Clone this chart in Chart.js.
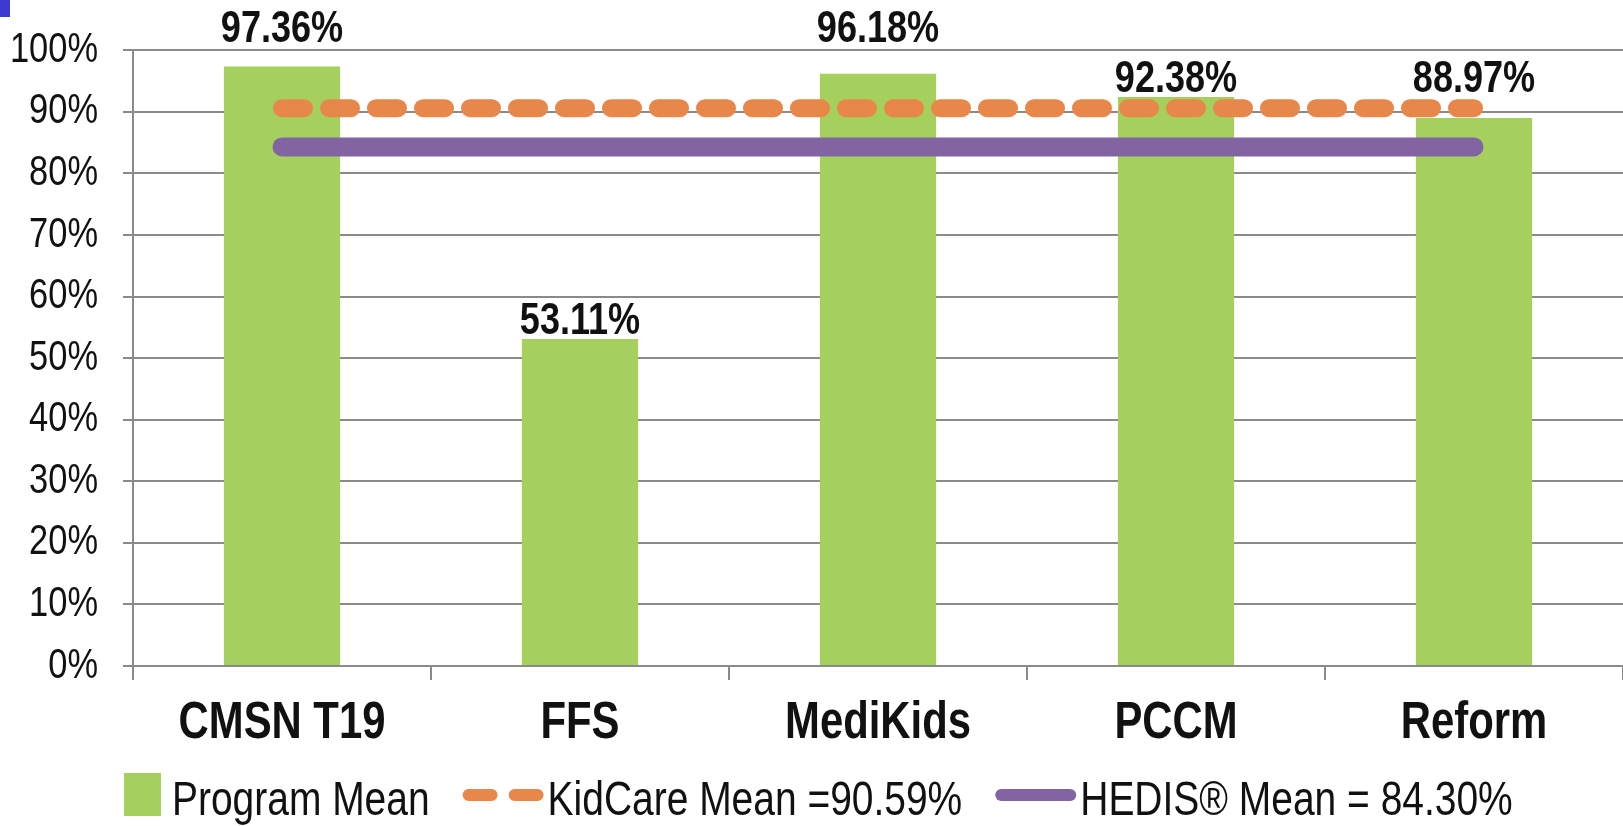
<!DOCTYPE html>
<html>
<head>
<meta charset="utf-8">
<title>Program Mean vs KidCare and HEDIS</title>
<script src="https://cdn.jsdelivr.net/npm/chart.js@4/dist/chart.umd.min.js"></script>
<style>
    html, body { margin: 0; padding: 0; background: #fff; }
    #wrap { position: relative; width: 1623px; height: 826px; }
    #corner { position: absolute; left: 0; top: 0; width: 10px; height: 17px; background: #3b3bd0; }
</style>
</head>
<body>
<div id="wrap">
    <canvas id="chart"></canvas>
    <div id="corner"></div>
</div>
<script>
// Data
const categories = ['CMSN T19', 'FFS', 'MediKids', 'PCCM', 'Reform'];
const programMean = [97.36, 53.11, 96.18, 92.38, 88.97];
const kidCareMean = [90.59, 90.59, 90.59, 90.59, 90.59];
const hedisMean = [84.30, 84.30, 84.30, 84.30, 84.30];
const yTickValues = [0, 10, 20, 30, 40, 50, 60, 70, 80, 90, 100];
const seriesNames = ['Program Mean', 'KidCare Mean =90.59%', 'HEDIS\u00AE Mean = 84.30%'];

const FONT = "'Liberation Sans', Arial, sans-serif";
const NARROW = 0.82; // no narrow font installed, so squeeze text horizontally
const GREEN = '#a5d05e';
const ORANGE = '#e8874a';
const PURPLE = '#8264a3';
const GRID = '#8a8a8a';

const canvas = document.getElementById('chart');
const c2d = canvas.getContext('2d');
const rawFillText = c2d.fillText.bind(c2d);
c2d.fillText = function (text, x, y, maxWidth) {
    this.save();
    this.translate(x, y);
    this.scale(NARROW, 1);
    if (maxWidth === undefined) rawFillText(text, 0, 0);
    else rawFillText(text, 0, 0, maxWidth / NARROW);
    this.restore();
};

// value labels above the bars, nudged up when they would sit on a line
const barLabels = {
    id: 'barLabels',
    afterDatasetsDraw(chart) {
        const ctx = chart.ctx;
        const area = chart.chartArea;
        const bands = [[area.top - 1, area.top + 1]];
        chart.data.datasets.forEach((ds, i) => {
            if (ds.type === 'line') {
                const y = chart.getDatasetMeta(i).data[0].y;
                bands.push([y - ds.borderWidth / 2, y + ds.borderWidth / 2]);
            }
        });
        bands.sort((a, b) => b[0] - a[0]);
        const meta = chart.getDatasetMeta(0);
        ctx.save();
        ctx.font = 'bold 44px ' + FONT;
        ctx.fillStyle = '#111';
        ctx.textAlign = 'center';
        ctx.textBaseline = 'alphabetic';
        meta.data.forEach((bar, i) => {
            let base = bar.y - 5;
            bands.forEach(b => {
                if (base + 1 > b[0] && base - 30 < b[1]) base = b[0] - 7;
            });
            ctx.fillText(programMean[i].toFixed(2) + '%', bar.x, base);
        });
        ctx.restore();
    }
};

// legend row under the axis labels
const bottomLegend = {
    id: 'bottomLegend',
    afterDraw(chart) {
        const ctx = chart.ctx;
        const base = 815;
        let x = 124;
        ctx.save();
        ctx.font = '47.5px ' + FONT;
        ctx.textBaseline = 'alphabetic';
        ctx.textAlign = 'left';
        chart.data.datasets.forEach((ds, i) => {
            if (ds.type === 'line') {
                ctx.beginPath();
                ctx.strokeStyle = ds.borderColor;
                ctx.lineWidth = 12;
                ctx.lineCap = 'round';
                ctx.setLineDash(ds.borderDash ? [23, 23] : []);
                ctx.moveTo(x + 6, base - 20);
                ctx.lineTo(x + 75, base - 20);
                ctx.stroke();
                ctx.setLineDash([]);
                x += 85;
            } else {
                ctx.fillStyle = ds.backgroundColor;
                ctx.fillRect(x, base - 42, 37, 43);
                x += 48;
            }
            ctx.fillStyle = '#111';
            ctx.fillText(seriesNames[i], x, base);
            x += ctx.measureText(seriesNames[i]).width * NARROW + 33;
        });
        ctx.restore();
    }
};

new Chart(canvas, {
    type: 'bar',
    data: {
        labels: categories,
        datasets: [{
            label: seriesNames[0],
            data: programMean,
            backgroundColor: GREEN,
            barPercentage: 0.39,
            categoryPercentage: 1,
            order: 3
        }, {
            type: 'line',
            label: seriesNames[1],
            data: kidCareMean,
            borderColor: ORANGE,
            borderWidth: 18,
            borderDash: [22, 25],
            borderCapStyle: 'round',
            pointRadius: 0,
            fill: false,
            order: 1
        }, {
            type: 'line',
            label: seriesNames[2],
            data: hedisMean,
            borderColor: PURPLE,
            borderWidth: 19,
            borderCapStyle: 'round',
            pointRadius: 0,
            fill: false,
            order: 2
        }]
    },
    options: {
        responsive: true,
        maintainAspectRatio: false,
        animation: false,
        layout: { padding: { top: 50, left: 0, right: 0, bottom: 0 } },
        plugins: {
            legend: { display: false },
            tooltip: { enabled: false }
        },
        scales: {
            x: {
                grid: { offset: true, drawOnChartArea: false, drawTicks: true, tickLength: 14, color: GRID, lineWidth: 2 },
                border: { color: GRID, width: 2 },
                ticks: { color: '#111', padding: 18, font: { family: FONT, size: 51, weight: 'bold', lineHeight: 1 } },
                afterFit(scale) { scale.height = 160; }
            },
            y: {
                min: 0,
                max: 100,
                afterBuildTicks(scale) { scale.ticks = yTickValues.map(v => ({ value: v })); },
                grid: { color: GRID, lineWidth: 2, tickLength: 10 },
                border: { color: GRID, width: 2 },
                ticks: { color: '#111', padding: 25, font: { family: FONT, size: 42 }, callback: v => v + '%' },
                afterFit(scale) { scale.width = 133; }
            }
        }
    },
    plugins: [barLabels, bottomLegend]
});
</script>
</body>
</html>
